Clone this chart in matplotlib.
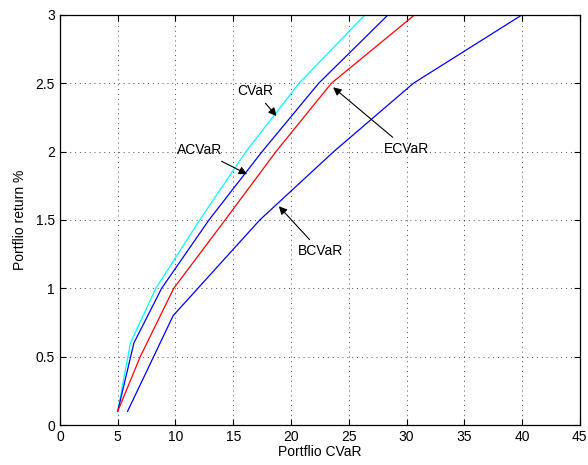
import numpy as np
import matplotlib
matplotlib.use("Agg")
import matplotlib.pyplot as plt

plt.rcParams['font.family'] = ['Liberation Sans', 'DejaVu Sans']

# efficient frontiers (x = CVaR, y = return %)
cvar_x = [5.0, 6.1, 8.3, 12.1, 16.1, 20.7, 26.4]
cvar_y = [0.1, 0.6, 1.0, 1.5, 2.0, 2.5, 3.0]

acvar_x = [5.0, 6.4, 8.8, 12.9, 17.5, 22.4, 28.4]
acvar_y = [0.1, 0.6, 1.0, 1.5, 2.0, 2.5, 3.0]

ecvar_x = [5.0, 6.95, 9.85, 14.3, 18.7, 23.5, 30.7]
ecvar_y = [0.1, 0.5, 1.0, 1.5, 2.0, 2.5, 3.0]

bcvar_x = [5.85, 9.8, 17.3, 23.7, 30.6, 40.0]
bcvar_y = [0.1, 0.8, 1.5, 2.0, 2.5, 3.0]

# label, text position, arrow tip
notes = [
    ("CVaR", (16.9, 2.44), (18.75, 2.26)),
    ("ACVaR", (12.1, 2.01), (16.2, 1.835)),
    ("ECVaR", (30.0, 2.02), (23.65, 2.47)),
    ("BCVaR", (22.55, 1.27), (18.95, 1.60)),
]

fig = plt.figure(figsize=(5.88, 4.65), dpi=100)
ax = fig.add_axes([0.102, 0.086, 0.884, 0.882])

ax.plot(cvar_x, cvar_y, color='#00ffff', lw=0.9)
ax.plot(acvar_x, acvar_y, color='#0000ff', lw=0.9)
ax.plot(ecvar_x, ecvar_y, color='#ff0000', lw=0.9)
ax.plot(bcvar_x, bcvar_y, color='#0000ff', lw=0.9)

for txt, xy_text, xy_tip in notes:
    ax.annotate(txt, xy=xy_tip, xytext=xy_text, fontsize=10,
                ha='center', va='center',
                arrowprops=dict(arrowstyle='-|>', color='k', lw=0.8,
                                mutation_scale=12, shrinkA=2, shrinkB=0))

ax.set_xlim(0, 45)
ax.set_ylim(0, 3)
ax.set_xticks(np.arange(0, 46, 5))
ax.set_yticks(np.arange(0, 3.01, 0.5))
ax.set_yticklabels(['0', '0.5', '1', '1.5', '2', '2.5', '3'])
ax.tick_params(direction='in', top=True, right=True, labelsize=10, length=4)
ax.grid(True, linestyle=(0, (1, 4)), color='k', lw=0.7, alpha=0.7)
for s in ax.spines.values():
    s.set_linewidth(0.9)

ax.set_xlabel("Portflio CVaR", fontsize=10, labelpad=1)
ax.set_ylabel("Portflio return %", fontsize=10, labelpad=6)

fig.savefig("out.png", dpi=100)
